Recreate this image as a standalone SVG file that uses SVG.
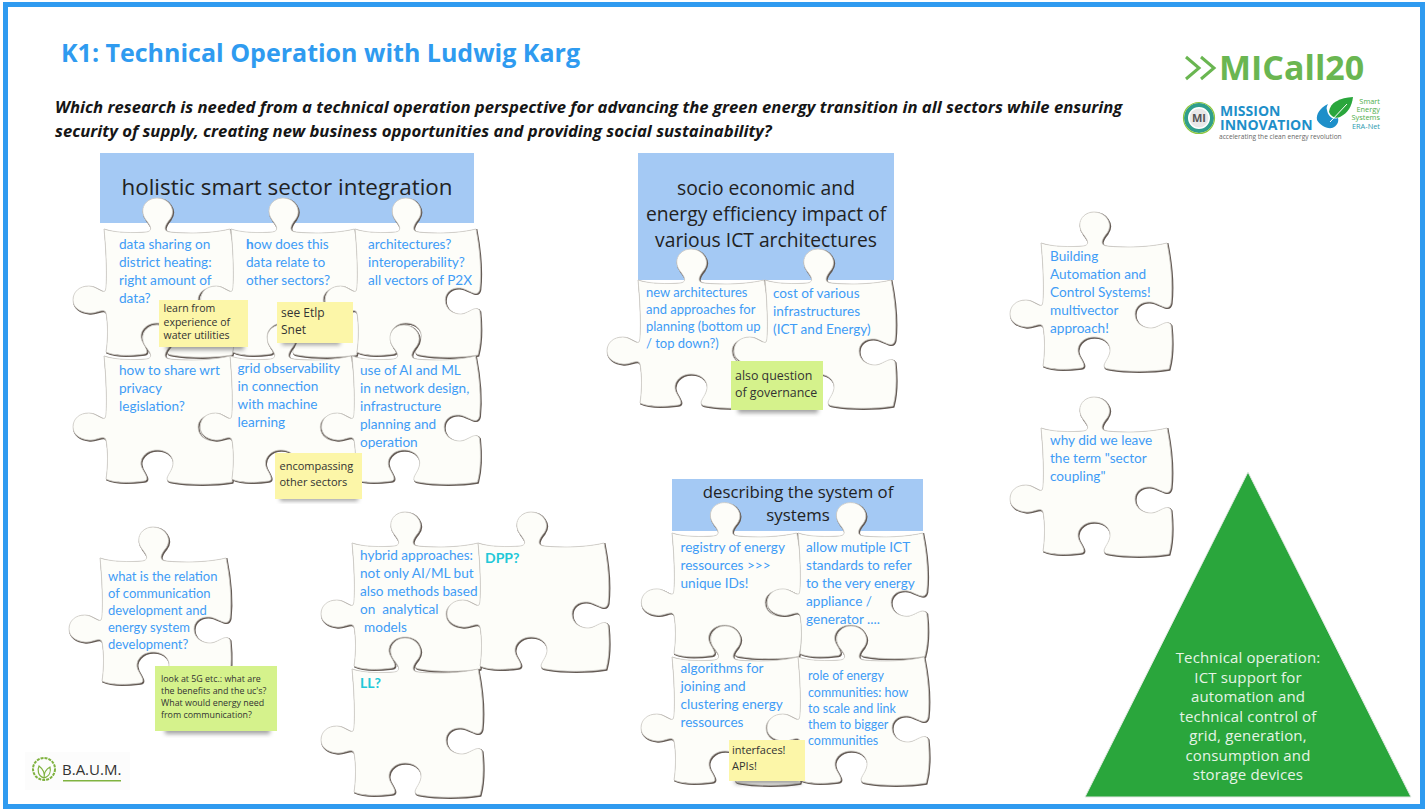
<svg xmlns="http://www.w3.org/2000/svg" width="1428" height="812" viewBox="0 0 1428 812">
<style>
text{font-family:"Open Sans","Noto Sans","Liberation Sans",sans-serif}
.t{font-family:Lato,"Noto Sans","Liberation Sans",sans-serif;font-size:13.6px;fill:#3f9cf6}
.s{font-size:13px}
.r{font-size:12.5px}
.hd{fill:#a4c9f4}
.ht{fill:#222;text-anchor:middle}
.ny{fill:#fcf6a8}
.ng{fill:#d5f28c}
.nt{fill:#333}
.q{font-size:16.7px;font-weight:700;font-style:italic;fill:#161616}
.cy{font-family:Lato,"Noto Sans",sans-serif;font-size:14px;font-weight:700;fill:#22c8d8}
.tri{font-size:15px;letter-spacing:.15px;fill:#e6f4e6;text-anchor:middle}
.sh{fill:#555;opacity:.55;filter:url(#blur)}
.lg{font-size:7.4px;fill:#4fae4a;text-anchor:end}
</style>
<defs>
<filter id="blur" x="-20%" y="-50%" width="140%" height="200%"><feGaussianBlur stdDeviation="2"/></filter>
<path id="pz" d="M0,0C12,4 30,4 42,3C50,2 46,-4 42,-9C34,-20 42,-31 53,-31C64,-31 73,-20 66,-10C61,-4 58,2 66,3C85,5 110,4 126,0C130,20 132,42 130,60C128,70 118,60 110,59C100,58 94,64 94,71C94,80 102,85 110,85C118,85 126,75 130,82C132,100 131,115 128,126C110,129 85,129 68,126C58,125 66,118 68,112C72,102 64,94 53,94C42,94 34,103 38,112C41,118 46,124 40,125C25,127 10,127 2,123C4,110 4,95 2,84C0,78 -8,85 -15,84C-25,83 -31,78 -31,71C-31,63 -25,57 -15,57C-8,57 -2,64 1,62C3,60 3,30 0,0Z"/>
<g id="piece">
<use href="#pz" transform="translate(.8 .9)" fill="#645b55" stroke="#645b55" stroke-width="1.600"/>
<use href="#pz" fill="#fdfdf9" stroke="#cfcdc8" stroke-width=".8"/>
</g>
</defs>

<rect id="frame" x="5.5" y="4.5" width="1417" height="802" fill="#fff" stroke="#2f9bf0" stroke-width="5"/>
<text id="title" x="61" y="62" font-size="25" font-weight="700" fill="#2f9bf0">K1: Technical Operation with Ludwig Karg</text>
<g id="question">
<text class="q" x="55" y="113">Which research is needed from a technical operation perspective for advancing the green energy transition in all sectors while ensuring</text>
<text class="q" x="55" y="137">security of supply, creating new business opportunities and providing social sustainability?</text>
</g>

<g id="logo-micall">
<path d="M1186,57L1199,68L1186,79M1201,57L1214,68L1201,79" fill="none" stroke="#6ab651" stroke-width="3"/>
<text x="1219" y="80" font-size="34" font-weight="700" fill="#6ab651">MICall20</text>
</g>
<g id="logo-mi">
<circle cx="1199" cy="118" r="13" fill="#fff" stroke="#2f9e8c" stroke-width="4"/>
<circle cx="1199" cy="118" r="15.5" fill="none" stroke="#8cc63f" stroke-width="1.2"/>
<circle cx="1199" cy="118" r="9.5" fill="#e8e8e8"/>
<text x="1199" y="122" font-size="11" font-weight="700" fill="#555" text-anchor="middle">MI</text>
<text x="1220" y="116" font-size="14" font-weight="700" fill="#1e8fc9">MISSION</text>
<text x="1220" y="130" font-size="14" font-weight="700" fill="#1e8fc9">INNOVATION</text>
<text x="1219" y="138.500" font-size="6.600" fill="#666">accelerating the clean energy revolution</text>
</g>
<g id="logo-ses">
<path d="M1353,97C1340,98 1330,102 1329,112C1331,117 1336,119 1340,117C1348,113 1352,106 1353,97Z" fill="#2aa63c"/>
<path d="M1328,104C1320,108 1316,114 1317,120C1320,125 1326,129 1332,128C1337,126 1339,122 1338,118C1332,120 1328,116 1327,110C1326,108 1327,106 1328,104Z" fill="#1e8fc9"/>
<path d="M1347,104L1330,122" stroke="#fff" stroke-width="1" fill="none"/>
<text class="lg" x="1380" y="104">Smart</text>
<text class="lg" x="1380" y="112">Energy</text>
<text class="lg" x="1380" y="120">Systems</text>
<text class="lg" x="1380" y="129" style="fill:#2f9bb0">ERA-Net</text>
</g>

<g id="header-holistic"><rect class="hd" x="100" y="153" width="374" height="70"/><text class="ht" x="287" y="195" font-size="22.400">holistic smart sector integration</text></g>
<g id="p-data"><use href="#piece" transform="translate(104 229)"/><text class="t" x="119" y="249">data sharing on</text><text class="t" x="119" y="267">district heating:</text><text class="t" x="119" y="285">right amount of</text><text class="t" x="119" y="303">data?</text></g>
<g id="p-how"><use href="#piece" transform="translate(231 229) scale(.98 1)"/><text class="t" x="246" y="249"><tspan font-weight="700">h</tspan>ow does this</text><text class="t" x="246" y="267">data relate to</text><text class="t" x="246" y="285">other sectors?</text></g>
<g id="p-arch"><use href="#piece" transform="translate(355 229) scale(.96 1)"/><text class="t" x="368" y="249">architectures?</text><text class="t" x="368" y="267">interoperability?</text><text class="t" x="368" y="285">all vectors of P2X</text></g>
<g id="p-privacy"><use href="#piece" transform="translate(104 356)"/><text class="t" x="119" y="375">how to share wrt</text><text class="t" x="119" y="393">privacy</text><text class="t" x="119" y="411">legislation?</text></g>
<g id="p-grid"><use href="#piece" transform="translate(230 356) scale(.96 1)"/><text class="t" x="237.500" y="373">grid observability</text><text class="t" x="237.500" y="391">in connection</text><text class="t" x="237.500" y="409">with machine</text><text class="t" x="237.500" y="427">learning</text></g>
<g id="p-ai"><use href="#piece" transform="translate(352 356) scale(.98 1)"/><text class="t" x="360" y="375">use of AI and ML</text><text class="t" x="360" y="393">in network design,</text><text class="t" x="360" y="411">infrastructure</text><text class="t" x="360" y="429">planning and</text><text class="t" x="360" y="447">operation</text></g>
<g id="n-learn"><rect class="sh" x="166" y="342" width="78" height="8"/><rect class="ny" x="159" y="300" width="89" height="47"/><text class="nt" x="163.500" y="312" font-size="10.500">learn from</text><text class="nt" x="163.500" y="326" font-size="10.500">experience of</text><text class="nt" x="163.500" y="339" font-size="10.500">water utilities</text></g>
<g id="n-see"><rect class="sh" x="282" y="338" width="58" height="7"/><rect class="ny" x="277" y="302" width="76" height="41"/><text class="nt" x="281" y="317" font-size="12">see Etlp</text><text class="nt" x="281" y="334" font-size="12">Snet</text></g>
<g id="n-enc"><rect class="sh" x="280" y="495" width="78" height="6"/><rect class="ny" x="275" y="453" width="87" height="46"/><text class="nt" x="279.500" y="470" font-size="11">encompassing</text><text class="nt" x="279.500" y="486" font-size="11">other sectors</text></g>

<g id="header-socio"><rect class="hd" x="638" y="153" width="256" height="127"/><text class="ht" x="766" y="195" font-size="19.300">socio economic and</text><text class="ht" x="766" y="221" font-size="19.300">energy efficiency impact of</text><text class="ht" x="766" y="247" font-size="19.300">various ICT architectures</text></g>
<g id="p-new"><use href="#piece" transform="translate(638 280)"/><text class="t s" x="646" y="297">new architectures</text><text class="t s" x="646" y="314">and approaches for</text><text class="t s" x="646" y="331">planning (bottom up</text><text class="t s" x="646" y="348">/ top down?)</text></g>
<g id="p-cost"><use href="#piece" transform="translate(765 280)"/><text class="t" x="773" y="298">cost of various</text><text class="t" x="773" y="316">infrastructures</text><text class="t" x="773" y="334">(ICT and Energy)</text></g>
<g id="n-gov"><rect class="sh" x="738" y="405" width="80" height="8"/><rect class="ng" x="731" y="361" width="92" height="49"/><text class="nt" x="735" y="380" font-size="12.400">also question</text><text class="nt" x="735" y="397" font-size="12.400">of governance</text></g>

<g id="header-system"><rect class="hd" x="672" y="479" width="251" height="52"/><text class="ht" x="798" y="498" font-size="16.800">describing the system of</text><text class="ht" x="798" y="521" font-size="16.800">systems</text></g>
<g id="p-registry"><use href="#piece" transform="translate(672 533) scale(.99 .98)"/><text class="t" x="680.500" y="552">registry of energy</text><text class="t" x="680.500" y="570">ressources &gt;&gt;&gt;</text><text class="t" x="680.500" y="588">unique IDs!</text></g>
<g id="p-allow"><use href="#piece" transform="translate(798 533) scale(.99 .98)"/><text class="t" x="806" y="552">allow mutiple ICT</text><text class="t" x="806" y="570">standards to refer</text><text class="t" x="806" y="588">to the very energy</text><text class="t" x="806" y="606">appliance /</text><text class="t" x="806" y="624">generator ....</text></g>
<g id="p-algo"><use href="#piece" transform="translate(672 657)"/><text class="t" x="680.500" y="673">algorithms for</text><text class="t" x="680.500" y="691">joining and</text><text class="t" x="680.500" y="709">clustering energy</text><text class="t" x="680.500" y="727">ressources</text></g>
<g id="p-role"><use href="#piece" transform="translate(798 657)"/><text class="t r" x="808" y="680">role of energy</text><text class="t r" x="808" y="697">communities: how</text><text class="t r" x="808" y="713">to scale and link</text><text class="t r" x="808" y="729">them to bigger</text><text class="t r" x="808" y="745">communities</text></g>
<g id="n-api"><rect class="sh" x="735" y="777" width="66" height="7"/><rect class="ny" x="729" y="740" width="76" height="41"/><text class="nt" x="732" y="754" font-size="11">interfaces!</text><text class="nt" x="732" y="770" font-size="11">APIs!</text></g>

<g id="p-relation"><use href="#piece" transform="translate(100 558)"/><text class="t s" x="108" y="581">what is the relation</text><text class="t s" x="108" y="598">of communication</text><text class="t s" x="108" y="615">development and</text><text class="t s" x="108" y="632">energy system</text><text class="t s" x="108" y="649">development?</text></g>
<g id="n-5g"><rect class="sh" x="165" y="727" width="105" height="7"/><rect class="ng" x="155" y="666" width="122" height="65"/><text class="nt" x="161" y="682" font-size="8.900">look at 5G etc.: what are</text><text class="nt" x="161" y="694" font-size="8.900">the benefits and the uc's?</text><text class="nt" x="161" y="706" font-size="8.900">What would energy need</text><text class="nt" x="161" y="717.500" font-size="8.900">from communication?</text></g>

<g id="p-hybrid"><use href="#piece" transform="translate(352 543)"/><text class="t" x="360" y="560">hybrid approaches:</text><text class="t" x="360" y="578">not only AI/ML but</text><text class="t" x="360" y="596">also methods based</text><text class="t" x="360" y="614" xml:space="preserve">on  analytical</text><text class="t" x="364" y="632">models</text></g>
<g id="p-dpp"><use href="#piece" transform="translate(478 543)"/><text class="cy" x="485" y="563">DPP?</text></g>
<g id="p-ll"><use href="#piece" transform="translate(352 669)"/><text class="cy" x="360" y="688">LL?</text></g>

<g id="p-building"><use href="#piece" transform="translate(1041 243)"/><text class="t" x="1050" y="261">Building</text><text class="t" x="1050" y="279">Automation and</text><text class="t" x="1050" y="297">Control Systems!</text><text class="t" x="1050" y="315">multivector</text><text class="t" x="1050" y="333">approach!</text></g>
<g id="p-why"><use href="#piece" transform="translate(1041 428)"/><text class="t" x="1050" y="445">why did we leave</text><text class="t" x="1050" y="463">the term "sector</text><text class="t" x="1050" y="481">coupling"</text></g>

<g id="triangle"><path d="M1248,472L1411,797H1085Z" fill="#2aa63c" stroke="#e4e8e4" stroke-width="1"/>
<text class="tri" x="1248" y="663">Technical operation:</text><text class="tri" x="1248" y="682.500">ICT support for</text><text class="tri" x="1248" y="702">automation and</text><text class="tri" x="1248" y="721.500">technical control of</text><text class="tri" x="1248" y="741">grid, generation,</text><text class="tri" x="1248" y="760.500">consumption and</text><text class="tri" x="1248" y="780">storage devices</text></g>

<g id="logo-baum"><rect x="25" y="752" width="105" height="38" fill="#fcfcfc"/>
<circle cx="44" cy="769" r="11" fill="none" stroke="#7fb23f" stroke-width="2" stroke-dasharray="3 1"/>
<path d="M44,778C38,776 37,770 39,766C43,769 45,773 44,778ZM44,778C50,776 51,771 50,767C46,769 44,773 44,778Z" fill="none" stroke="#7fb23f" stroke-width="1.200"/>
<text x="62" y="775" font-size="15" fill="#333">B.A.U.M.</text>
<rect x="63" y="780" width="58" height="1.500" fill="#7fb23f"/></g>
</svg>
